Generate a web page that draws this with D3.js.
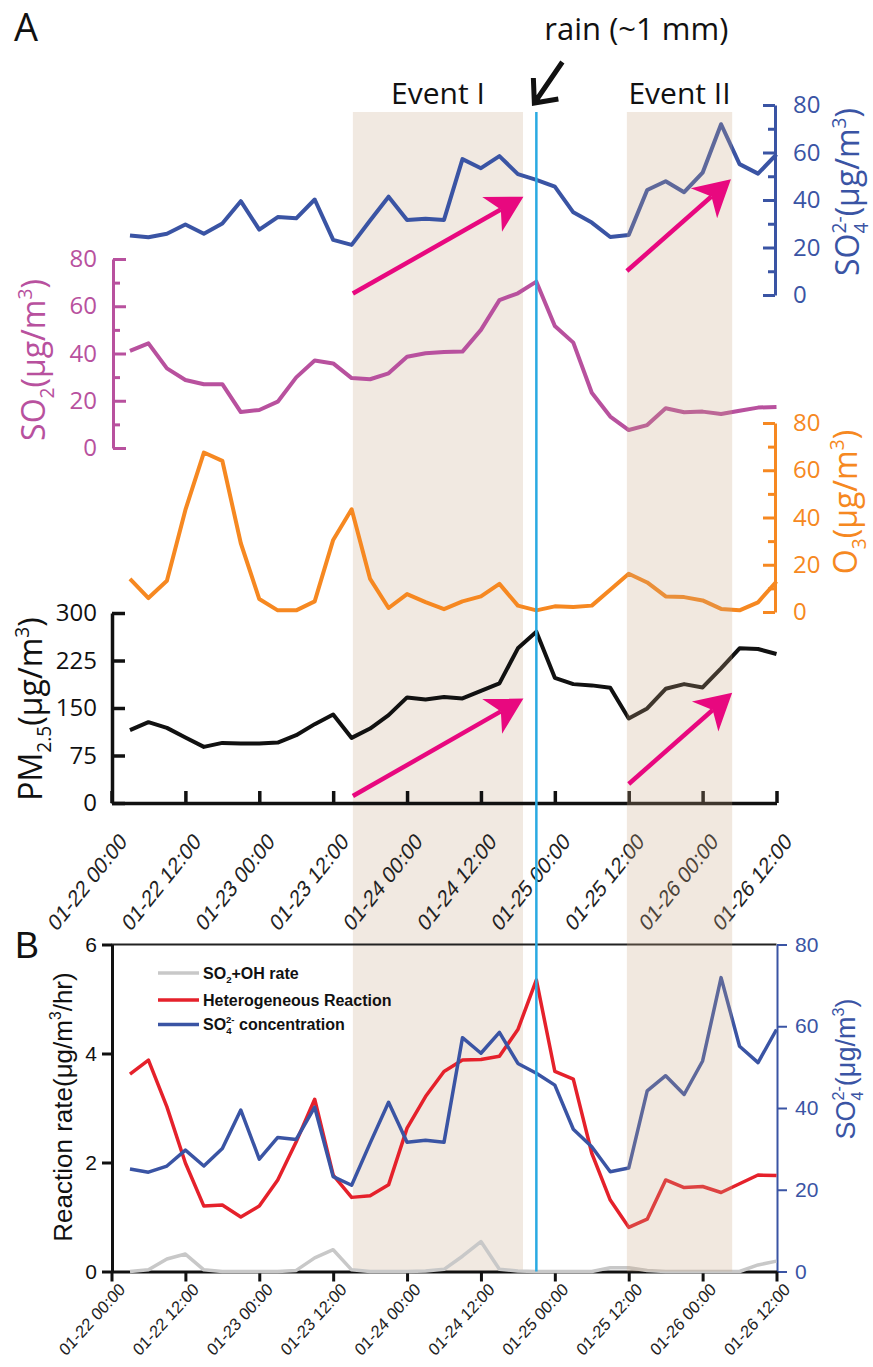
<!DOCTYPE html>
<html>
<head>
<meta charset="utf-8">
<script src="https://cdn.jsdelivr.net/npm/d3@7"></script>
<style>
  body { margin: 0; background: #fff; }
  svg { display: block; }
</style>
</head>
<body>
<svg id="chart" width="873" height="1367"></svg>
<script>
// ---- data (3-hourly) ----
var times = [
  "2013-01-22 03:00", "2013-01-22 06:00", "2013-01-22 09:00", "2013-01-22 12:00", "2013-01-22 15:00", "2013-01-22 18:00", "2013-01-22 21:00",
  "2013-01-23 00:00", "2013-01-23 03:00", "2013-01-23 06:00", "2013-01-23 09:00", "2013-01-23 12:00", "2013-01-23 15:00", "2013-01-23 18:00", "2013-01-23 21:00",
  "2013-01-24 00:00", "2013-01-24 03:00", "2013-01-24 06:00", "2013-01-24 09:00", "2013-01-24 12:00", "2013-01-24 15:00", "2013-01-24 18:00", "2013-01-24 21:00",
  "2013-01-25 00:00", "2013-01-25 03:00", "2013-01-25 06:00", "2013-01-25 09:00", "2013-01-25 12:00", "2013-01-25 15:00", "2013-01-25 18:00", "2013-01-25 21:00",
  "2013-01-26 00:00", "2013-01-26 03:00", "2013-01-26 06:00", "2013-01-26 09:00", "2013-01-26 12:00"
];
var so4 = [25.1, 24.3, 25.8, 29.7, 25.8, 30.1, 39.5, 27.5, 32.8, 32.3, 40.2, 23.2, 21.1, 31.4, 41.4, 31.6, 32.1, 31.6,
           57.2, 53.4, 58.5, 50.9, 48.5, 45.6, 34.8, 30.5, 24.4, 25.3, 44.2, 47.9, 43.3, 51.5, 71.9, 55.1, 51.1, 59.2];
var so2 = [41.1, 44.3, 33.7, 28.8, 27.0, 27.0, 15.2, 16.1, 19.6, 29.9, 37.0, 35.8, 29.6, 29.1, 31.6, 38.6, 40.1, 40.6,
           40.8, 50.0, 62.6, 65.5, 70.4, 51.6, 44.6, 23.4, 13.3, 7.6, 9.7, 16.8, 15.1, 15.4, 14.4, 15.8, 17.1, 17.4];
var o3 = [14.0, 5.9, 13.2, 43.2, 67.5, 64.0, 29.1, 5.5, 0.7, 0.7, 4.5, 30.5, 43.5, 14.0, 1.7, 7.6, 4.2, 1.2,
          4.5, 6.6, 11.9, 2.7, 0.7, 2.4, 2.1, 2.7, 9.4, 16.2, 12.5, 6.6, 6.3, 4.9, 1.3, 0.7, 4.1, 12.9];
var pm25 = [115, 127.6, 118.6, 103.4, 88.6, 94.9, 93.9, 94, 95.5, 107, 124.5, 139.8, 102.8, 117.6, 138.7, 166.7, 163.5, 167.2,
            165.1, 177.1, 188.8, 244.2, 270.5, 197.7, 187.7, 185.7, 181.9, 133.5, 149.3, 180.3, 187.7, 182.5, 212.6, 244.2, 243.1, 235.2];
var hetRate = [3.62, 3.88, 3.02, 1.99, 1.20, 1.22, 1.00, 1.20, 1.68, 2.38, 3.16, 1.77, 1.36, 1.39, 1.59, 2.63, 3.21, 3.67,
               3.88, 3.89, 3.95, 4.44, 5.35, 3.67, 3.53, 2.17, 1.31, 0.81, 0.96, 1.68, 1.54, 1.56, 1.45, 1.61, 1.77, 1.76];
var ohRate = [0, 0.03, 0.23, 0.32, 0.03, 0, 0, 0, 0, 0.02, 0.25, 0.40, 0.03, 0, 0, 0, 0.01, 0.04,
              0.28, 0.55, 0.04, 0.01, 0, 0, 0, 0, 0.07, 0.07, 0.02, 0, 0, 0, 0, 0, 0.12, 0.19];

var tickLabels = ["01-22 00:00", "01-22 12:00", "01-23 00:00", "01-23 12:00", "01-24 00:00",
                  "01-24 12:00", "01-25 00:00", "01-25 12:00", "01-26 00:00", "01-26 12:00"];
var events = [
  {name: "Event I", start: "2013-01-23 15:12", end: "2013-01-24 18:50"},
  {name: "Event II", start: "2013-01-25 11:42", end: "2013-01-26 04:48"}
];
var rainTime = "2013-01-24 21:00";
// trend arrows: [start time, start value, end time, end value]
var so4Arrows = [["2013-01-23 15:12", 0.6, "2013-01-24 18:54", 41.4], ["2013-01-25 11:42", 10.1, "2013-01-26 04:36", 48.7]];
var pmArrows = [["2013-01-23 15:12", 11, "2013-01-24 18:54", 165], ["2013-01-25 12:00", 30, "2013-01-26 04:48", 174]];

// ---- colours / fonts ----
var BLUE = "#3a54a4", MAG = "#b8519e", ORANGE = "#f68821", RED = "#e5212b", GRAY = "#c8c8c8",
    CYAN = "#2aaae2", PINK = "#e8087f", SHADE = "#f1e9e1";
var MYR = "'Open Sans', 'Noto Sans', sans-serif";
var ARI = "'Liberation Sans', Arial, sans-serif";

var parseT = d3.utcParse("%Y-%m-%d %H:%M");
var t = times.map(parseT);
var tickDates = tickLabels.map(function(s) { return parseT("2013-" + s); });

var svg = d3.select("#chart");

var x = d3.scaleUtc()
  .domain([tickDates[0], tickDates[tickDates.length - 1]])
  .range([111.5, 776.5]);

var ySO4a = d3.scaleLinear().domain([0, 80]).range([295, 105]);
var ySO2 = d3.scaleLinear().domain([0, 80]).range([448, 259]);
var yO3 = d3.scaleLinear().domain([0, 80]).range([612, 423]);
var yPM = d3.scaleLinear().domain([0, 300]).range([803, 613]);
var yRate = d3.scaleLinear().domain([0, 6]).range([1271.5, 944.5]);
var ySO4b = d3.scaleLinear().domain([0, 80]).range([1271.5, 944.5]);

var shadeTop = 112, shadeBottom = 1271.5;

var gUnder = svg.append("g");
var gAxes = svg.append("g");
var gLines = svg.append("g");
var gOver = svg.append("g");
var gAnn = svg.append("g");

// Event I shading sits under everything, Event II is a translucent wash on top
gUnder.append("rect")
  .attr("x", x(parseT(events[0].start)))
  .attr("width", x(parseT(events[0].end)) - x(parseT(events[0].start)))
  .attr("y", shadeTop).attr("height", shadeBottom - shadeTop)
  .attr("fill", SHADE);
gOver.append("rect")
  .attr("x", x(parseT(events[1].start)))
  .attr("width", x(parseT(events[1].end)) - x(parseT(events[1].start)))
  .attr("y", shadeTop).attr("height", shadeBottom - shadeTop)
  .attr("fill", "rgb(200,165,130)").attr("fill-opacity", 0.255);

// ---- helpers ----
function styleAxis(g, color, width, size, family) {
  g.attr("color", color).attr("font-family", family).attr("font-size", size);
  g.select(".domain").attr("stroke-width", width);
  g.selectAll(".tick line").attr("stroke-width", width);
  return g;
}

function rich(text, parts, size) {
  var shift = 0;
  parts.forEach(function(p) {
    var ts = text.append("tspan").text(p.t);
    var target = p.sub ? size * 0.28 : (p.sup ? -size * 0.42 : 0);
    if (p.sub || p.sup) ts.attr("font-size", size * 0.6);
    if (target - shift !== 0) ts.attr("dy", target - shift);
    if (p.dx) ts.attr("dx", p.dx * size);
    shift = target;
  });
}

function vTitle(g, cx, cy, parts, color, size, family) {
  var tx = g.append("text")
    .attr("transform", "translate(" + cx + "," + cy + ") rotate(-90)")
    .attr("text-anchor", "middle")
    .attr("fill", color)
    .attr("font-size", size)
    .attr("font-family", family);
  rich(tx, parts, size);
}

function minorTicks(scale, xPos, values, len, color, width, dir) {
  var ax = (dir === "left" ? d3.axisLeft(scale) : d3.axisRight(scale))
    .tickValues(values).tickSize(len).tickFormat("");
  var g = gAxes.append("g").attr("transform", "translate(" + xPos + ",0)").call(ax);
  g.select(".domain").remove();
  g.attr("color", color).selectAll(".tick line").attr("stroke-width", width);
}

function drawLine(g, values, y, color, width) {
  var line = d3.line()
    .x(function(d, i) { return x(t[i]); })
    .y(function(d) { return y(d); });
  g.append("path").datum(values)
    .attr("d", line)
    .attr("fill", "none")
    .attr("stroke", color)
    .attr("stroke-width", width)
    .attr("stroke-linejoin", "round");
}

function pinkArrow(x0, y0, x1, y1) {
  var dx = x1 - x0, dy = y1 - y0, L = Math.hypot(dx, dy);
  var ux = dx / L, uy = dy / L, nx = -uy, ny = ux;
  var back = 36, side = 20, notch = 26;
  gAnn.append("line")
    .attr("x1", x0).attr("y1", y0)
    .attr("x2", x1 - ux * notch).attr("y2", y1 - uy * notch)
    .attr("stroke", PINK).attr("stroke-width", 4.5);
  gAnn.append("path")
    .attr("d", "M" + x1 + "," + y1 +
      "L" + (x1 - ux * back + nx * side) + "," + (y1 - uy * back + ny * side) +
      "L" + (x1 - ux * notch) + "," + (y1 - uy * notch) +
      "L" + (x1 - ux * back - nx * side) + "," + (y1 - uy * back - ny * side) + "Z")
    .attr("fill", PINK);
}

function rotLabels(g, shift, stretch) {
  g.selectAll(".tick text")
    .attr("x", 0).attr("y", 0).attr("dy", 0)
    .attr("text-anchor", "end")
    .attr("fill", "#222")
    .attr("transform", "translate(" + shift + ") scale(1," + stretch + ") rotate(-45)");
}

var tickFmt = function(d, i) { return tickLabels[i]; };

// ---- panel A axes ----
var so4AxisA = gAxes.append("g").attr("transform", "translate(775,0)")
  .call(d3.axisRight(ySO4a).tickValues([0, 20, 40, 60, 80]).tickSizeInner(-12).tickSizeOuter(0).tickPadding(18));
styleAxis(so4AxisA, BLUE, 3, 24, MYR);
minorTicks(ySO4a, 775, [10, 30, 50, 70], -7, BLUE, 3, "right");

var so2Axis = gAxes.append("g").attr("transform", "translate(113,0)")
  .call(d3.axisLeft(ySO2).tickValues([0, 20, 40, 60, 80]).tickSizeInner(-13).tickSizeOuter(0).tickPadding(16));
styleAxis(so2Axis, MAG, 3, 24, MYR);
minorTicks(ySO2, 113, [10, 30, 50, 70], -7, MAG, 3, "left");

var o3Axis = gAxes.append("g").attr("transform", "translate(775,0)")
  .call(d3.axisRight(yO3).tickValues([0, 20, 40, 60, 80]).tickSizeInner(-12).tickSizeOuter(0).tickPadding(18));
styleAxis(o3Axis, ORANGE, 3, 24, MYR);
minorTicks(yO3, 775, [10, 30, 50, 70], -7, ORANGE, 3, "right");

var pmAxis = gAxes.append("g").attr("transform", "translate(112,0)")
  .call(d3.axisLeft(yPM).tickValues([0, 75, 150, 225, 300]).tickSizeInner(-13).tickSizeOuter(0).tickPadding(15));
styleAxis(pmAxis, "#111", 3.5, 24, MYR);

var xAxisA = gAxes.append("g").attr("transform", "translate(0,803)")
  .call(d3.axisBottom(x).tickValues(tickDates).tickFormat(tickFmt).tickSizeInner(-12).tickSizeOuter(0));
styleAxis(xAxisA, "#111", 3.5, 19, ARI);
rotLabels(xAxisA, "16,40", 1.25);

// ---- panel B axes ----
gAxes.append("line")
  .attr("x1", x.range()[0]).attr("x2", x.range()[1])
  .attr("y1", yRate(6)).attr("y2", yRate(6))
  .attr("stroke", "#222").attr("stroke-width", 2);

var rateAxis = gAxes.append("g").attr("transform", "translate(112,0)")
  .call(d3.axisLeft(yRate).tickValues([0, 2, 4, 6]).tickFormat(d3.format("d"))
    .tickSizeInner(10).tickSizeOuter(0).tickPadding(5));
styleAxis(rateAxis, "#111", 3, 21, ARI);

var so4AxisB = gAxes.append("g").attr("transform", "translate(777,0)")
  .call(d3.axisRight(ySO4b).tickValues([0, 20, 40, 60, 80]).tickSizeInner(10).tickSizeOuter(0).tickPadding(8));
styleAxis(so4AxisB, BLUE, 2, 21, ARI);

var xAxisB = gAxes.append("g").attr("transform", "translate(0,1271.5)")
  .call(d3.axisBottom(x).tickValues(tickDates).tickFormat(tickFmt).tickSizeInner(10).tickSizeOuter(0));
styleAxis(xAxisB, "#111", 3, 16, ARI);
rotLabels(xAxisB, "14,19", 1.1);

// ---- lines ----
drawLine(gLines, so4, ySO4a, BLUE, 4);
drawLine(gLines, so2, ySO2, MAG, 4);
drawLine(gLines, o3, yO3, ORANGE, 4);
drawLine(gLines, pm25, yPM, "#111", 4);

drawLine(gLines, ohRate, yRate, GRAY, 3.5);
drawLine(gLines, hetRate, yRate, RED, 3.5);
drawLine(gLines, so4, ySO4b, BLUE, 3.5);

// ---- rain line ----
var xr = x(parseT(rainTime));
gAnn.append("line")
  .attr("x1", xr).attr("x2", xr).attr("y1", shadeTop).attr("y2", shadeBottom)
  .attr("stroke", CYAN).attr("stroke-width", 2.5);

// ---- trend arrows ----
so4Arrows.forEach(function(a) {
  pinkArrow(x(parseT(a[0])), ySO4a(a[1]), x(parseT(a[2])), ySO4a(a[3]));
});
pmArrows.forEach(function(a) {
  pinkArrow(x(parseT(a[0])), yPM(a[1]), x(parseT(a[2])), yPM(a[3]));
});

// ---- rain annotation ----
gAnn.append("text")
  .attr("x", xr + 8).attr("y", 40)
  .attr("font-family", MYR).attr("font-size", 31).attr("fill", "#111")
  .text("rain (~1 mm)");
gAnn.append("path")
  .attr("d", "M" + (xr + 26) + ",62 L" + (xr - 2) + ",103 M" + (xr - 3) + ",78 L" + (xr - 2) + ",103 L" + (xr + 22) + ",99")
  .attr("fill", "none").attr("stroke", "#111").attr("stroke-width", 5)
  .attr("stroke-linejoin", "miter");

// ---- event labels ----
events.forEach(function(e) {
  gAnn.append("text")
    .attr("x", (x(parseT(e.start)) + x(parseT(e.end))) / 2)
    .attr("y", 104)
    .attr("text-anchor", "middle")
    .attr("font-family", MYR).attr("font-size", 30).attr("fill", "#111")
    .text(e.name);
});

// ---- panel letters ----
gAnn.append("text").attr("x", 14).attr("y", 41)
  .attr("font-family", MYR).attr("font-size", 38).attr("fill", "#111").text("A");
gAnn.append("text").attr("x", 15).attr("y", 958)
  .attr("font-family", ARI).attr("font-size", 36).attr("fill", "#111").text("B");

// ---- axis titles ----
var unit = [{t: "(μg/m"}, {t: "3", sup: true}, {t: ")"}];
vTitle(gAnn, 859, 192, [{t: "SO"}, {t: "4", sub: true}, {t: "2-", sup: true, dx: -0.34}].concat(unit), BLUE, 32, MYR);
vTitle(gAnn, 45, 360, [{t: "SO"}, {t: "2", sub: true}].concat(unit), MAG, 32, MYR);
vTitle(gAnn, 857, 502, [{t: "O"}, {t: "3", sub: true}].concat(unit), ORANGE, 32, MYR);
vTitle(gAnn, 42, 709, [{t: "PM"}, {t: "2.5", sub: true}].concat(unit), "#111", 32, MYR);

vTitle(gAnn, 72, 1107, [{t: "Reaction rate(μg/m"}, {t: "3", sup: true}, {t: "/hr)"}], "#111", 26, ARI);
vTitle(gAnn, 855, 1069, [{t: "SO"}, {t: "4", sub: true}, {t: "2-", sup: true, dx: -0.34}].concat(unit), BLUE, 27, ARI);

// ---- legend ----
var legendItems = [
  {color: GRAY, parts: [{t: "SO"}, {t: "2", sub: true}, {t: "+OH rate"}]},
  {color: RED, parts: [{t: "Heterogeneous Reaction"}]},
  {color: BLUE, parts: [{t: "SO"}, {t: "4", sub: true}, {t: "2-", sup: true, dx: -0.34}, {t: " concentration"}]}
];
var legendY = [973, 1000, 1024.5];
legendItems.forEach(function(item, i) {
  var y = legendY[i];
  gAnn.append("line").attr("x1", 158).attr("x2", 199).attr("y1", y).attr("y2", y)
    .attr("stroke", item.color).attr("stroke-width", 3.5);
  var tx = gAnn.append("text").attr("x", 203).attr("y", y + 5.5)
    .attr("font-family", ARI).attr("font-weight", "bold").attr("font-size", 16).attr("fill", "#111");
  rich(tx, item.parts, 16);
});
</script>
</body>
</html>
